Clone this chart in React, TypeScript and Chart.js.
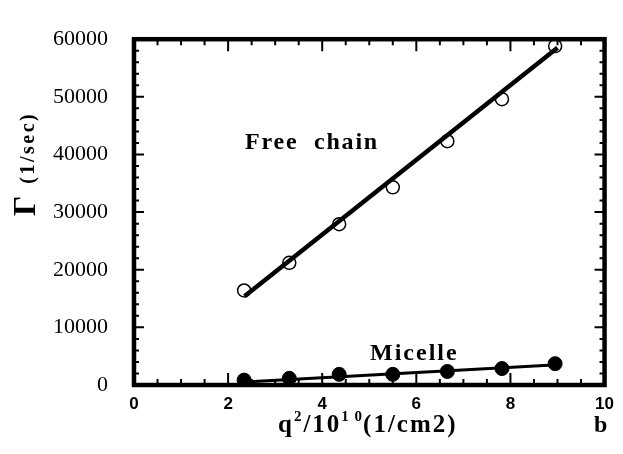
import { useEffect, useRef } from "react";
import { Chart, registerables } from "chart.js";

Chart.register(...registerables);

// Scattering vector squared, q^2 / 10^10 (1/cm2)
const qSquared = [2.34, 3.3, 4.36, 5.5, 6.66, 7.82, 8.95];
// Relaxation rate, 1/sec
const freeChainRate = [16400, 21200, 27900, 34300, 42300, 49600, 58800];
const micelleRate = [850, 1150, 1850, 1850, 2350, 2850, 3700];

// Linear fits (end points)
const fitQ = [2.35, 9.0];
const freeChainFit = [15400, 58500];
const micelleFit = [500, 3500];

const xTickValues = [0, 2, 4, 6, 8, 10];
const yTickValues = [0, 10000, 20000, 30000, 40000, 50000, 60000];

const SERIF = "'Liberation Serif', 'DejaVu Serif', serif";
const SANS = "'Liberation Sans', Arial, sans-serif";

function drawSpaced(
  ctx: CanvasRenderingContext2D,
  text: string,
  x: number,
  y: number,
  font: string,
  spacing: number
): number {
  ctx.font = font;
  (ctx as any).letterSpacing = spacing + "px";
  ctx.fillText(text, x, y);
  const w = ctx.measureText(text).width;
  (ctx as any).letterSpacing = "0px";
  return w;
}

const framePlugin = {
  id: "frame",
  afterDraw(chart: any) {
    const { ctx, chartArea } = chart;
    const xs = chart.scales.x;
    const ys = chart.scales.y;
    const { left, right, top, bottom } = chartArea;
    ctx.save();
    ctx.strokeStyle = "#000";
    ctx.fillStyle = "#000";

    // inward tick marks on all four sides
    ctx.lineWidth = 2;
    ctx.beginPath();
    for (let v = 0; v <= 10.0001; v += 0.5) {
      const px = xs.getPixelForValue(v);
      const major = Math.abs(v % 2) < 1e-6;
      const len = major ? 12 : 6;
      ctx.moveTo(px, bottom);
      ctx.lineTo(px, bottom - len);
      ctx.moveTo(px, top);
      ctx.lineTo(px, top + len);
    }
    for (let v = 0; v <= 60000; v += 2000) {
      const py = ys.getPixelForValue(v);
      const major = v % 10000 === 0;
      const len = major ? 10 : 5;
      ctx.moveTo(left, py);
      ctx.lineTo(left + len, py);
      ctx.moveTo(right, py);
      ctx.lineTo(right - len, py);
    }
    ctx.stroke();

    // heavy frame
    ctx.lineWidth = 4.5;
    ctx.strokeRect(left, top, right - left, bottom - top);

    ctx.textAlign = "left";
    ctx.textBaseline = "alphabetic";

    // series annotations
    drawSpaced(ctx, "Free  chain", left + 111, top + 110, `bold 24px ${SERIF}`, 1.8);
    drawSpaced(ctx, "Micelle", left + 236, top + 321, `bold 24px ${SERIF}`, 2);

    // x axis title: q^2/10^10(1/cm2)
    let x = 278;
    const base = 432;
    const big = `bold 25px ${SERIF}`;
    const sup = `bold 15px ${SERIF}`;
    x += drawSpaced(ctx, "q", x, base, big, 2);
    x += drawSpaced(ctx, "2", x, base - 11, sup, 2);
    x += drawSpaced(ctx, "/10", x, base, big, 2);
    x += drawSpaced(ctx, "1 0", x, base - 11, sup, 1);
    drawSpaced(ctx, "(1/cm2)", x, base, big, 2);

    drawSpaced(ctx, "b", 594, base, `bold 24px ${SERIF}`, 0);

    // y axis title: Γ (1/sec)
    ctx.save();
    ctx.translate(35, 216);
    ctx.rotate(-Math.PI / 2);
    let yx = 0;
    yx += drawSpaced(ctx, "Γ", 0, 0, `bold 32px ${SERIF}`, 0);
    drawSpaced(ctx, "(1/sec)", yx + 12, -1, `bold 20px ${SERIF}`, 2.5);
    ctx.restore();

    ctx.restore();
  },
};

export default function App() {
  const canvasRef = useRef<HTMLCanvasElement | null>(null);

  useEffect(() => {
    const canvas = canvasRef.current;
    if (!canvas) return;

    const chart = new Chart(canvas, {
      type: "scatter",
      data: {
        datasets: [
          {
            label: "Free chain",
            data: qSquared.map((q, i) => ({ x: q, y: freeChainRate[i] })),
            pointRadius: 6.5,
            pointBorderWidth: 1.5,
            pointBorderColor: "#000",
            pointBackgroundColor: "rgba(255,255,255,0)",
            showLine: false,
          },
          {
            label: "Micelle",
            data: qSquared.map((q, i) => ({ x: q, y: micelleRate[i] })),
            pointRadius: 7,
            pointBorderWidth: 1,
            pointBorderColor: "#000",
            pointBackgroundColor: "#000",
            showLine: false,
          },
          {
            label: "Free chain fit",
            data: fitQ.map((q, i) => ({ x: q, y: freeChainFit[i] })),
            showLine: true,
            borderColor: "#000",
            borderWidth: 4.5,
            pointRadius: 0,
          },
          {
            label: "Micelle fit",
            data: fitQ.map((q, i) => ({ x: q, y: micelleFit[i] })),
            showLine: true,
            borderColor: "#000",
            borderWidth: 3,
            pointRadius: 0,
          },
        ],
      },
      options: {
        responsive: false,
        animation: false,
        layout: { padding: { left: 0, right: 16, top: 26, bottom: 0 } },
        plugins: {
          legend: { display: false },
          tooltip: { enabled: false },
        },
        scales: {
          x: {
            type: "linear",
            min: 0,
            max: 10,
            grid: { display: false, drawTicks: false },
            border: { display: false },
            afterBuildTicks: (scale: any) => {
              scale.ticks = xTickValues.map((v) => ({ value: v }));
            },
            afterFit: (scale: any) => {
              scale.height = 69;
            },
            ticks: {
              color: "#000",
              padding: 9,
              maxRotation: 0,
              callback: (v: any) => String(v),
              font: { family: SANS, size: 17, weight: "bold" },
            },
          },
          y: {
            type: "linear",
            min: 0,
            max: 60000,
            grid: { display: false, drawTicks: false },
            border: { display: false },
            afterBuildTicks: (scale: any) => {
              scale.ticks = yTickValues.map((v) => ({ value: v }));
            },
            afterFit: (scale: any) => {
              scale.width = 134;
            },
            ticks: {
              color: "#000",
              padding: 26,
              callback: (v: any) => String(v),
              font: { family: SERIF, size: 22 },
            },
          },
        },
      },
      plugins: [framePlugin],
    });

    return () => chart.destroy();
  }, []);

  return (
    <div style={{ position: "absolute", left: 0, top: 0, width: 623, height: 454, background: "#fff" }}>
      <canvas ref={canvasRef} width={623} height={454} />
    </div>
  );
}
